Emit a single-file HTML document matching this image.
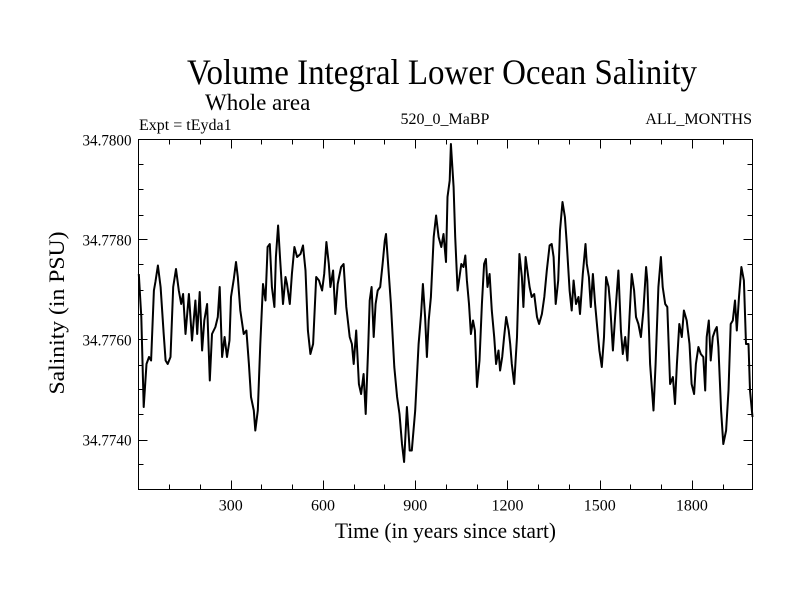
<!DOCTYPE html>
<html><head><meta charset="utf-8"><style>
body{margin:0;background:#fff;}
svg text{font-family:"Liberation Serif",serif;fill:#000;}
</style></head><body>
<svg id="chart" width="800" height="600" viewBox="0 0 800 600" xmlns="http://www.w3.org/2000/svg">
<rect width="800" height="600" fill="#fff"/>
<text x="187" y="84" font-size="36" textLength="510" lengthAdjust="spacingAndGlyphs">Volume Integral Lower Ocean Salinity</text>
<text x="205" y="110" font-size="23">Whole area</text>
<text x="139" y="130" font-size="16">Expt = tEyda1</text>
<text x="445" y="124" font-size="16" text-anchor="middle">520_0_MaBP</text>
<text x="752" y="124" font-size="16" text-anchor="end">ALL_MONTHS</text>
<text x="335" y="538" font-size="22" textLength="221" lengthAdjust="spacingAndGlyphs">Time (in years since start)</text>
<text x="0" y="0" font-size="22" text-anchor="middle" textLength="163" lengthAdjust="spacingAndGlyphs" transform="translate(64,313) rotate(-90)">Salinity (in PSU)</text>
<g id="ticks"></g>
<g id="labels"></g>
<path id="series" fill="none" stroke="#000" stroke-width="2" stroke-linejoin="round"/>
<rect x="138.5" y="139.5" width="614" height="350" fill="none" stroke="#000" stroke-width="1"/>
</svg>
<script>
const years=[1,9,17,26,34,41,50,55,63,72,82,88,95,104,113,122,131,139,145,153,164,174,185,191,199,207,214,223,232,239,250,258,264,272,280,288,296,301,310,317,323,331,342,351,359,366,375,380,388,396,405,413,420,427,434,442,447,454,461,470,478,483,492,499,507,516,527,535,543,551,559,568,578,587,597,604,611,619,624,633,640,648,659,667,676,687,694,700,708,717,724,732,739,747,752,758,765,771,778,786,794,801,805,814,821,832,841,849,857,864,873,882,889,900,911,919,925,932,938,944,951,960,968,976,985,992,1000,1005,1012,1016,1025,1030,1038,1044,1050,1057,1063,1068,1075,1081,1088,1094,1101,1109,1117,1124,1130,1135,1142,1149,1157,1163,1171,1176,1183,1189,1196,1204,1209,1214,1222,1231,1239,1247,1252,1259,1265,1272,1279,1287,1296,1303,1312,1320,1328,1337,1344,1350,1357,1365,1371,1379,1387,1393,1402,1409,1415,1423,1431,1436,1445,1454,1458,1465,1471,1478,1485,1493,1499,1507,1514,1521,1529,1534,1543,1550,1561,1569,1575,1583,1590,1597,1604,1612,1618,1626,1634,1642,1651,1655,1664,1675,1682,1691,1699,1705,1713,1720,1729,1738,1745,1751,1759,1767,1774,1783,1792,1799,1807,1813,1821,1829,1837,1843,1848,1855,1861,1868,1875,1881,1886,1895,1902,1911,1919,1926,1933,1940,1946,1953,1961,1969,1976,1984,1989,1997];
const salinity=[34.77731,34.77645,34.77465,34.77551,34.77565,34.77558,34.77698,34.77715,34.77748,34.77705,34.77611,34.77558,34.77551,34.77565,34.77705,34.77741,34.77698,34.77671,34.77691,34.77611,34.77691,34.77598,34.77678,34.77611,34.77695,34.77578,34.77638,34.77671,34.77518,34.77611,34.77625,34.77645,34.77705,34.77565,34.77605,34.77565,34.77598,34.77685,34.77721,34.77755,34.77725,34.77658,34.77611,34.77618,34.77551,34.77485,34.77458,34.77418,34.77458,34.77591,34.77711,34.77678,34.77785,34.77791,34.77705,34.77665,34.77765,34.77828,34.77758,34.77671,34.77725,34.77711,34.77671,34.77731,34.77785,34.77765,34.77771,34.77788,34.77738,34.77618,34.77571,34.77591,34.77725,34.77718,34.77698,34.77731,34.77795,34.77751,34.77705,34.77738,34.77651,34.77711,34.77745,34.77751,34.77665,34.77605,34.77591,34.77551,34.77618,34.77511,34.77491,34.77531,34.77451,34.77585,34.77678,34.77705,34.77605,34.77671,34.77698,34.77705,34.77751,34.77798,34.77811,34.77731,34.77671,34.77545,34.77485,34.77451,34.77391,34.77355,34.77465,34.77378,34.77378,34.77458,34.77591,34.77651,34.77711,34.77645,34.77565,34.77638,34.77685,34.77805,34.77848,34.77805,34.77785,34.77811,34.77755,34.77885,34.77918,34.77991,34.77905,34.77805,34.77698,34.77725,34.77751,34.77745,34.77768,34.77718,34.77671,34.77611,34.77638,34.77618,34.77505,34.77558,34.77671,34.77751,34.77761,34.77705,34.77731,34.77658,34.77605,34.77551,34.77578,34.77538,34.77565,34.77605,34.77645,34.77618,34.77591,34.77551,34.77511,34.77605,34.77771,34.77725,34.77665,34.77765,34.77738,34.77705,34.77685,34.77691,34.77645,34.77631,34.77651,34.77685,34.77738,34.77788,34.77791,34.77765,34.77671,34.77718,34.77818,34.77875,34.77845,34.77791,34.77698,34.77658,34.77718,34.77671,34.77685,34.77651,34.77731,34.77791,34.77751,34.77725,34.77665,34.77731,34.77671,34.77618,34.77578,34.77545,34.77605,34.77725,34.77705,34.77671,34.77578,34.77645,34.77738,34.77618,34.77571,34.77605,34.77558,34.77645,34.77731,34.77698,34.77645,34.77631,34.77605,34.77658,34.77745,34.77718,34.77551,34.77458,34.77551,34.77705,34.77765,34.77705,34.77671,34.77665,34.77511,34.77525,34.77471,34.77551,34.77631,34.77605,34.77658,34.77638,34.77591,34.77511,34.77491,34.77551,34.77585,34.77571,34.77565,34.77498,34.77605,34.77638,34.77558,34.77605,34.77618,34.77625,34.77585,34.77458,34.77391,34.77418,34.77498,34.77631,34.77638,34.77678,34.77618,34.77685,34.77745,34.77718,34.77591,34.77591,34.77498,34.77445];
const xTickLabels=["300","600","900","1200","1500","1800"];
const yTickLabels=["34.7740","34.7760","34.7780","34.7800"];

const X0=138.5,X1=752.5,Y0=489.5,Y1=139.5,XMIN=0,XMAX=1997,YMIN=34.7730,YMAX=34.7800;
function xs(v){return X0+(v-XMIN)/(XMAX-XMIN)*(X1-X0);}
function ys(v){return Y0-(v-YMIN)/(YMAX-YMIN)*(Y0-Y1);}
const NS="http://www.w3.org/2000/svg";
const tg=document.getElementById('ticks'),lg=document.getElementById('labels');
function line(x1,y1,x2,y2){const l=document.createElementNS(NS,'line');l.setAttribute('x1',x1);l.setAttribute('y1',y1);l.setAttribute('x2',x2);l.setAttribute('y2',y2);l.setAttribute('stroke','#000');l.setAttribute('stroke-width','1');


tg.appendChild(l);}
for(let t=100;t<XMAX;t+=100){const major=t%300===0;const L=major?9:5;const x=Math.round(xs(t))+0.5;line(x,Y0,x,Y0-L);line(x,Y1,x,Y1+L);}
for(let k=1;k<14;k++){const v=YMIN+k*0.0005;const major=k%4===2;const L=major?9:5;const y=Math.round(ys(v))+0.5;line(X0,y,X0+L,y);line(X1,y,X1-L,y);}
xTickLabels.forEach(s=>{const t=document.createElementNS(NS,'text');t.setAttribute('x',xs(parseFloat(s)));t.setAttribute('y',Y0+21);t.setAttribute('font-size','16');t.setAttribute('text-anchor','middle');t.textContent=s;


lg.appendChild(t);});
yTickLabels.forEach(s=>{const t=document.createElementNS(NS,'text');t.setAttribute('x',X0-7);t.setAttribute('y',ys(parseFloat(s))+6);t.setAttribute('font-size','16');t.setAttribute('text-anchor','end');t.setAttribute('textLength','49');t.setAttribute('lengthAdjust','spacingAndGlyphs');t.textContent=s;


lg.appendChild(t);});
let d='';years.forEach((yr,i)=>{d+=(i?'L':'M')+xs(yr).toFixed(1)+','+ys(salinity[i]).toFixed(1);});
document.getElementById('series').setAttribute('d',d);
</script>
</body></html>
